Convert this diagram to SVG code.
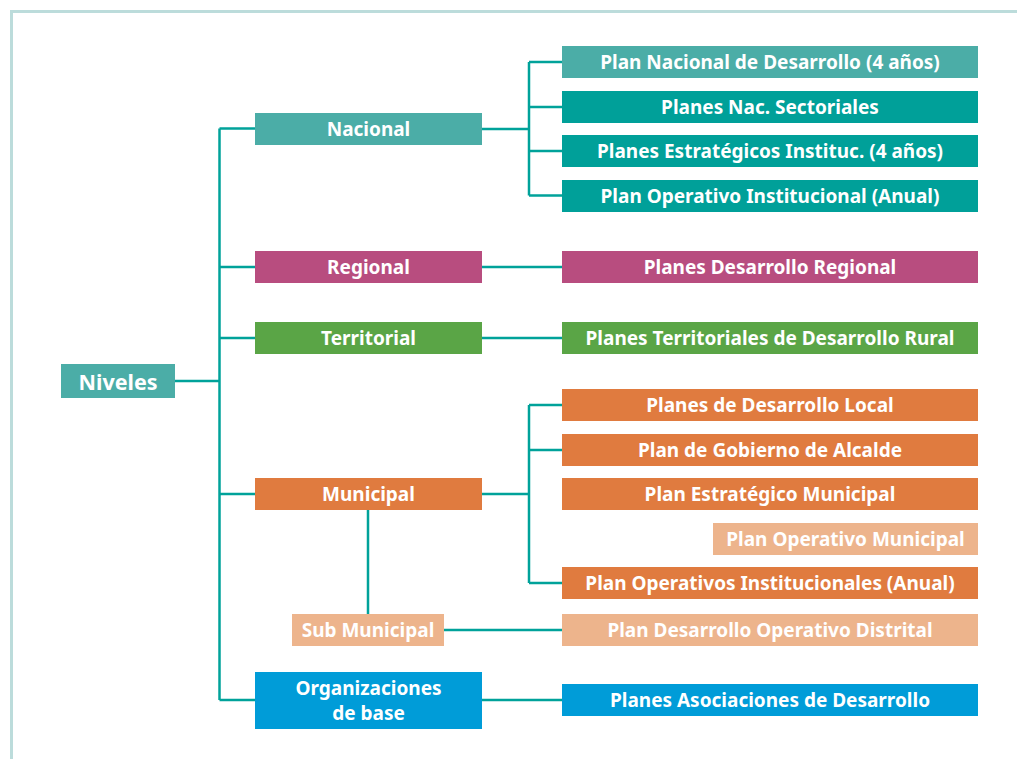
<svg xmlns="http://www.w3.org/2000/svg" width="1017" height="759" viewBox="0 0 1017 759">
<style>
text{font-family:"Noto Sans","Open Sans","Liberation Sans",sans-serif;font-weight:bold;fill:#fff;text-anchor:middle;dominant-baseline:central;font-size:19px}
.big{font-size:21.5px}
.c{fill:none;stroke:#00a29a;stroke-width:2.5}
.tl{fill:#4bada7}.t{fill:#00a099}.m{fill:#b84d7f}.g{fill:#5aa546}.o{fill:#e07b3f}.lo{fill:#edb48c}.b{fill:#009cd8}
</style>
<rect width="1017" height="759" fill="#fff"/>
<path d="M11.5 759V11.5H1017" fill="none" stroke="#bcdcdb" stroke-width="3"/>
<g id="connectors">
<path class="c" d="M175 381H219.5M219.5 128.5V700M219.5 128.5H255M219.5 267H255M219.5 338H255M219.5 494H255M219.5 700H255"/>
<path class="c" d="M482 129H529M529 62V195.5M529 62H562M529 107H562M529 151H562M529 195.5H562"/>
<path class="c" d="M482 267H562M482 338H562M482 700H562"/>
<path class="c" d="M482 494H529M529 405V583M529 405H562M529 450H562M529 583H562"/>
<path class="c" d="M368 510V614M444 630H562"/>
</g>
<g id="niveles"><rect class="tl" x="61" y="364" width="114" height="34"/><text class="big" x="118" y="381">Niveles</text></g>
<g id="nacional"><rect class="tl" x="255" y="113" width="227" height="32"/><text x="368.5" y="129">Nacional</text></g>
<g id="regional"><rect class="m" x="255" y="251" width="227" height="32"/><text x="368.5" y="267">Regional</text></g>
<g id="territorial"><rect class="g" x="255" y="322" width="227" height="32"/><text x="368.5" y="338">Territorial</text></g>
<g id="municipal"><rect class="o" x="255" y="478" width="227" height="32"/><text x="368.5" y="494">Municipal</text></g>
<g id="submunicipal"><rect class="lo" x="292" y="614" width="152" height="32"/><text x="368" y="630">Sub Municipal</text></g>
<g id="organizaciones"><rect class="b" x="255" y="672" width="227" height="57"/><text x="368.5" y="688">Organizaciones</text><text x="368.5" y="713">de base</text></g>
<g id="pnd"><rect class="tl" x="562" y="46" width="416" height="32"/><text x="770" y="62">Plan Nacional de Desarrollo (4 años)</text></g>
<g id="pns"><rect class="t" x="562" y="91" width="416" height="32"/><text x="770" y="107">Planes Nac. Sectoriales</text></g>
<g id="pei"><rect class="t" x="562" y="135" width="416" height="32"/><text x="770" y="151">Planes Estratégicos Instituc. (4 años)</text></g>
<g id="poi"><rect class="t" x="562" y="180" width="416" height="32"/><text x="770" y="196">Plan Operativo Institucional (Anual)</text></g>
<g id="pdr"><rect class="m" x="562" y="251" width="416" height="32"/><text x="770" y="267">Planes Desarrollo Regional</text></g>
<g id="ptdr"><rect class="g" x="562" y="322" width="416" height="32"/><text x="770" y="338">Planes Territoriales de Desarrollo Rural</text></g>
<g id="pdl"><rect class="o" x="562" y="389" width="416" height="32"/><text x="770" y="405">Planes de Desarrollo Local</text></g>
<g id="pga"><rect class="o" x="562" y="434" width="416" height="32"/><text x="770" y="450">Plan de Gobierno de Alcalde</text></g>
<g id="pem"><rect class="o" x="562" y="478" width="416" height="32"/><text x="770" y="494">Plan Estratégico Municipal</text></g>
<g id="pom"><rect class="lo" x="713" y="523" width="265" height="32"/><text x="845.5" y="539">Plan Operativo Municipal</text></g>
<g id="poin"><rect class="o" x="562" y="567" width="416" height="32"/><text x="770" y="583">Plan Operativos Institucionales (Anual)</text></g>
<g id="pdod"><rect class="lo" x="562" y="614" width="416" height="32"/><text x="770" y="630">Plan Desarrollo Operativo Distrital</text></g>
<g id="pad"><rect class="b" x="562" y="684" width="416" height="32"/><text x="770" y="700">Planes Asociaciones de Desarrollo</text></g>
</svg>
